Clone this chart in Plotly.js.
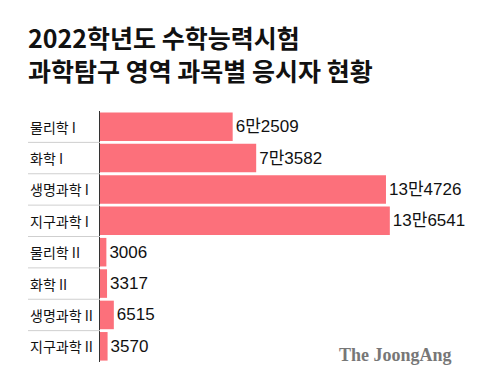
<!DOCTYPE html>
<html>
<head>
<meta charset="utf-8">
<script src="https://cdn.plot.ly/plotly-3.0.1.min.js"></script>
<style>html,body{margin:0;padding:0;background:#fff;}#chart{width:480px;height:391px;}</style>
</head>
<body>
<div id="chart"></div>
<script>
const categories = ["물리학 I", "화학 I", "생명과학 I", "지구과학 I", "물리학 II", "화학 II", "생명과학 II", "지구과학 II"];
const values = [62509, 73582, 134726, 136541, 3006, 3317, 6515, 3570];
const titleLines = ["2022학년도 수학능력시험", "과학탐구 영역 과목별 응시자 현황"];
const sourceText = "The JoongAng";

const KR = '"Noto Sans CJK KR", "Noto Sans", sans-serif';
const NUM = '"Liberation Sans", "Noto Sans CJK KR", sans-serif';
const fmt = v => (v >= 10000 ? Math.floor(v / 10000) + "만" + (v % 10000) : String(v));

const trace = {
  type: "bar",
  orientation: "h",
  x: values,
  y: categories,
  marker: {color: "#fc707b"},
  text: values.map(fmt),
  textposition: "outside",
  cliponaxis: false,
  textfont: {family: NUM, size: 17, color: "#111"},
  hoverinfo: "skip"
};

const annotations = categories.map(c => ({
  xref: "paper", yref: "y", x: -0.2, y: c,
  xanchor: "left", yanchor: "middle", showarrow: false,
  text: c, font: {family: KR, size: 14, color: "#111"}
}));
annotations.push({
  xref: "paper", yref: "paper", x: -0.205, y: 1 + (111 - 17) / 251,
  xanchor: "left", yanchor: "top", align: "left", showarrow: false,
  text: titleLines.map(t => "<b>" + t + "</b>").join("<br>"),
  font: {family: KR, size: 25, color: "#111"}
});
annotations.push({
  xref: "paper", yref: "paper", x: 0.983, y: -0.02,
  xanchor: "right", yanchor: "bottom", showarrow: false,
  text: "<b>" + sourceText + "</b>",
  font: {family: '"Liberation Serif", "DejaVu Serif", serif', size: 18, color: "#777"}
});

const shapes = categories.slice(0, -1).map((c, i) => ({
  type: "line", xref: "paper", yref: "y",
  x0: -0.2, x1: 0, y0: i + 0.5, y1: i + 0.5,
  line: {color: "#cfcfcf", width: 1}
}));

const layout = {
  width: 480, height: 391,
  margin: {l: 100, r: 20, t: 111, b: 29},
  paper_bgcolor: "#fff", plot_bgcolor: "#fff",
  showlegend: false,
  bargap: 0.09,
  xaxis: {range: [0, 169600], showgrid: false, zeroline: false, showticklabels: false, showline: false, fixedrange: true},
  yaxis: {autorange: "reversed", showgrid: false, zeroline: false, showticklabels: false, ticks: "",
          showline: true, linecolor: "#333", linewidth: 1.5, fixedrange: true},
  annotations: annotations,
  shapes: shapes
};

Plotly.newPlot("chart", [trace], layout, {displayModeBar: false, staticPlot: true});
</script>
</body>
</html>
